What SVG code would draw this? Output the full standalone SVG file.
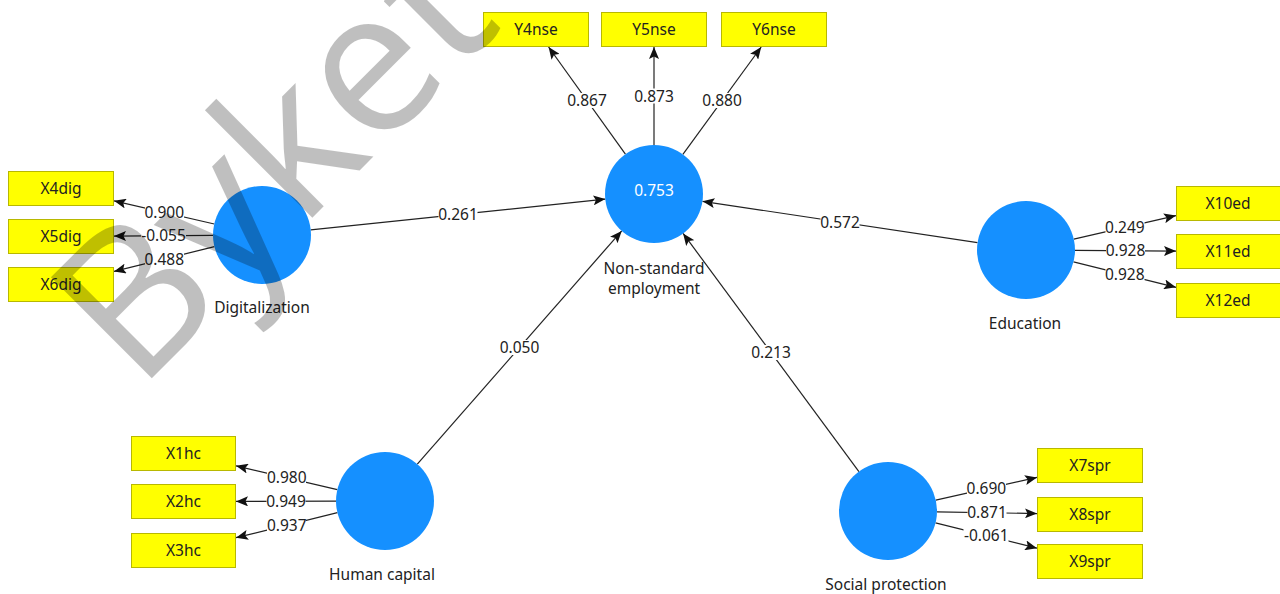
<svg xmlns="http://www.w3.org/2000/svg" width="1280" height="594" viewBox="0 0 1280 594">
<style>
.lv{fill:#1590ff}
.bx{fill:#ffff00;stroke:#b8b800;stroke-width:1}
.bt{font-family:"Noto Sans","Open Sans",sans-serif;font-size:15.5px;fill:#222;text-anchor:middle}
.nt{font-family:"Noto Sans","Open Sans",sans-serif;font-size:15.5px;fill:#222;text-anchor:middle}
.ln{stroke:#222;stroke-width:1.2;fill:none;marker-end:url(#arr)}
.lb{fill:#fff}
.lt{font-family:"Noto Sans","Open Sans",sans-serif;font-size:15.5px;fill:#222;text-anchor:middle}
</style>
<defs>
<marker id="arr" markerWidth="12" markerHeight="10" refX="12" refY="5" orient="auto" markerUnits="userSpaceOnUse">
<path d="M0,0 L12,5 L0,10 L2.5,5 z" fill="#111"/>
</marker>
</defs>
<rect width="1280" height="594" fill="#fff"/>

<g id="connectors">
<line class="ln" x1="214.3" y1="224" x2="114" y2="200.8"/>
<line class="ln" x1="213" y1="235.4" x2="114" y2="236.1"/>
<line class="ln" x1="214.4" y1="246.7" x2="114" y2="271.4"/>
<line class="ln" x1="625.4" y1="154.2" x2="548.6" y2="47"/>
<line class="ln" x1="654" y1="145" x2="654" y2="47"/>
<line class="ln" x1="682.9" y1="154.4" x2="761.2" y2="47"/>
<line class="ln" x1="1073.8" y1="239.1" x2="1176" y2="215.6"/>
<line class="ln" x1="1075" y1="250.4" x2="1176" y2="251.1"/>
<line class="ln" x1="1073.5" y1="261.8" x2="1176" y2="287.3"/>
<line class="ln" x1="337.3" y1="489.7" x2="236" y2="465.8"/>
<line class="ln" x1="336" y1="501.1" x2="236" y2="501.4"/>
<line class="ln" x1="337.4" y1="512.7" x2="236" y2="537.7"/>
<line class="ln" x1="935.8" y1="500.2" x2="1037" y2="477.4"/>
<line class="ln" x1="937" y1="511.8" x2="1037" y2="513.6"/>
<line class="ln" x1="935.5" y1="522.9" x2="1037" y2="548.2"/>
<line class="ln" x1="310.7" y1="229.9" x2="605.3" y2="199.1"/>
<line class="ln" x1="977.5" y1="242.7" x2="702.5" y2="201.3"/>
<line class="ln" x1="417.3" y1="464.1" x2="621.7" y2="230.9"/>
<line class="ln" x1="858.9" y1="471.6" x2="683.1" y2="233.4"/>

<rect class="lb" x="145" y="205" width="39" height="15"/><text class="lt" x="164.2" y="218">0.900</text>
<rect class="lb" x="141" y="228" width="45" height="15"/><text class="lt" x="163.5" y="241.2">-0.055</text>
<rect class="lb" x="145" y="251.5" width="39" height="15"/><text class="lt" x="164.2" y="264.5">0.488</text>
<rect class="lb" x="567.5" y="93" width="39" height="15"/><text class="lt" x="587" y="106">0.867</text>
<rect class="lb" x="634.5" y="88.5" width="39" height="15"/><text class="lt" x="654" y="101.5">0.873</text>
<rect class="lb" x="702.5" y="93" width="39" height="15"/><text class="lt" x="722" y="106">0.880</text>
<rect class="lb" x="1105.5" y="220" width="39" height="15"/><text class="lt" x="1124.9" y="233">0.249</text>
<rect class="lb" x="1106" y="243.2" width="39" height="15"/><text class="lt" x="1125.5" y="256.2">0.928</text>
<rect class="lb" x="1105.5" y="267" width="39" height="15"/><text class="lt" x="1124.8" y="280">0.928</text>
<rect class="lb" x="267" y="470.3" width="39" height="15"/><text class="lt" x="286.7" y="483.3">0.980</text>
<rect class="lb" x="266.5" y="493.5" width="39" height="15"/><text class="lt" x="286" y="506.5">0.949</text>
<rect class="lb" x="267" y="517.7" width="39" height="15"/><text class="lt" x="286.7" y="530.7">0.937</text>
<rect class="lb" x="967" y="481.3" width="39" height="15"/><text class="lt" x="986.4" y="494.3">0.690</text>
<rect class="lb" x="967.5" y="505.2" width="39" height="15"/><text class="lt" x="987" y="518.2">0.871</text>
<rect class="lb" x="963.5" y="528" width="45" height="15"/><text class="lt" x="986.3" y="541">-0.061</text>
<rect class="lb" x="438.5" y="207" width="39" height="15"/><text class="lt" x="458" y="220">0.261</text>
<rect class="lb" x="820.5" y="214.5" width="39" height="15"/><text class="lt" x="840" y="227.5">0.572</text>
<rect class="lb" x="500" y="340" width="39" height="15"/><text class="lt" x="519.5" y="353">0.050</text>
<rect class="lb" x="751.5" y="345" width="39" height="15"/><text class="lt" x="771" y="358">0.213</text>
</g>

<g id="digitalization">
<circle class="lv" cx="262" cy="235" r="49"/>
<text class="nt" x="262" y="313">Digitalization</text>
</g>
<g id="non-standard-employment">
<circle class="lv" cx="654" cy="194" r="49"/>
<text class="nt" x="654" y="196" style="fill:#fff">0.753</text>
<text class="nt" x="654" y="274">Non-standard</text>
<text class="nt" x="654" y="294">employment</text>
</g>
<g id="education">
<circle class="lv" cx="1026" cy="250" r="49"/>
<text class="nt" x="1025" y="329">Education</text>
</g>
<g id="human-capital">
<circle class="lv" cx="385" cy="501" r="49"/>
<text class="nt" x="382" y="580">Human capital</text>
</g>
<g id="social-protection">
<circle class="lv" cx="888" cy="511" r="49"/>
<text class="nt" x="886" y="590">Social protection</text>
</g>

<g id="X4dig"><rect class="bx" x="8.5" y="171.5" width="105" height="34"/><text class="bt" x="61" y="194">X4dig</text></g>
<g id="X5dig"><rect class="bx" x="8.5" y="219.5" width="105" height="34"/><text class="bt" x="61" y="242">X5dig</text></g>
<g id="X6dig"><rect class="bx" x="8.5" y="267.5" width="105" height="34"/><text class="bt" x="61" y="290">X6dig</text></g>
<g id="Y4nse"><rect class="bx" x="483.5" y="12.5" width="105" height="34"/><text class="bt" x="536" y="35">Y4nse</text></g>
<g id="Y5nse"><rect class="bx" x="601.5" y="12.5" width="105" height="34"/><text class="bt" x="654" y="35">Y5nse</text></g>
<g id="Y6nse"><rect class="bx" x="721.5" y="12.5" width="105" height="34"/><text class="bt" x="774" y="35">Y6nse</text></g>
<g id="X10ed"><rect class="bx" x="1176.5" y="186.5" width="105" height="34"/><text class="bt" x="1228" y="209">X10ed</text></g>
<g id="X11ed"><rect class="bx" x="1176.5" y="234.5" width="105" height="34"/><text class="bt" x="1228" y="257">X11ed</text></g>
<g id="X12ed"><rect class="bx" x="1176.5" y="283.5" width="105" height="34"/><text class="bt" x="1228" y="306">X12ed</text></g>
<g id="X1hc"><rect class="bx" x="131.5" y="436.5" width="104" height="34"/><text class="bt" x="183.5" y="459">X1hc</text></g>
<g id="X2hc"><rect class="bx" x="131.5" y="484.5" width="104" height="34"/><text class="bt" x="183.5" y="507">X2hc</text></g>
<g id="X3hc"><rect class="bx" x="131.5" y="533.5" width="104" height="34"/><text class="bt" x="183.5" y="556">X3hc</text></g>
<g id="X7spr"><rect class="bx" x="1037.5" y="448.5" width="105" height="34"/><text class="bt" x="1090" y="471">X7spr</text></g>
<g id="X8spr"><rect class="bx" x="1037.5" y="497.5" width="105" height="34"/><text class="bt" x="1090" y="520">X8spr</text></g>
<g id="X9spr"><rect class="bx" x="1037.5" y="544.5" width="105" height="34"/><text class="bt" x="1090" y="567">X9spr</text></g>

<g id="watermark">
<text x="138" y="392" transform="rotate(-45 138 392)" font-family="'Open Sans','Liberation Sans',sans-serif" font-size="200" font-weight="500" fill="#000" fill-opacity="0.25">Byketo</text>
</g>
</svg>
